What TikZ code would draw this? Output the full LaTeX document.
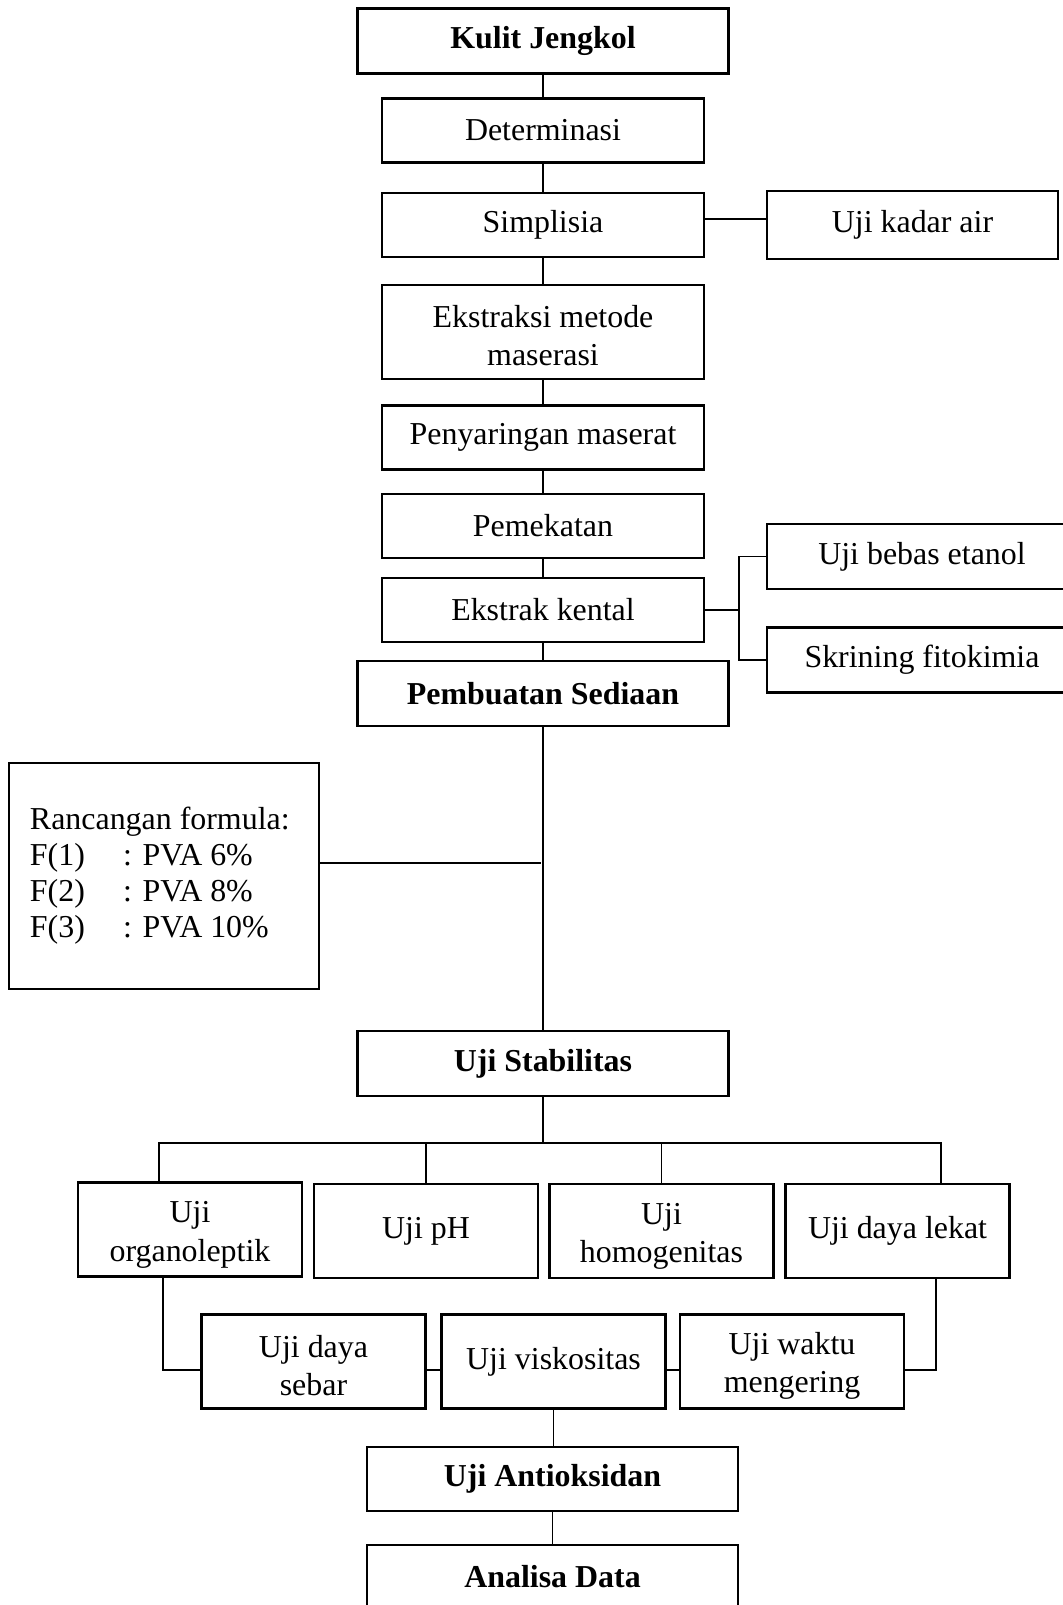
\documentclass[tikz,border=0pt]{standalone}
\usepackage{fontspec}
\setmainfont{Liberation Serif}
\newcommand{\px}{0.376pt}
\newcommand{\nodefont}{\fontsize{12}{14.5}\selectfont}
\newcommand{\boxstrut}[1]{\rule{0pt}{#1}}
\tikzset{
  box/.style={draw, line width=0.9pt, inner sep=0pt, align=center, font=\nodefont,
    minimum width=322*\px, minimum height=64*\px},
  headbox/.style={box, minimum width=371*\px, minimum height=65*\px, font=\nodefont\bfseries},
  sidebox/.style={box, minimum width=310*\px, minimum height=65*\px},
  testbox/.style={box, minimum width=224*\px, minimum height=94*\px},
  link/.style={draw=black, line width=0.5pt},
}
\begin{document}
\begin{tikzpicture}[x=\px, y=-\px]
    \useasboundingbox (0,0) rectangle (1063,1605);
    % main column
    \node(kulit) [headbox] at (543,41) {Kulit Jengkol};
    \node(determinasi) [box] at (543,130.5) {Determinasi};
    \node(simplisia) [box] at (543,225) {Simplisia};
    \node(ekstraksi) [box, minimum height=94*\px] at (543,332) {\boxstrut{11pt}Ekstraksi metode\\maserasi};
    \node(penyaringan) [box] at (543,437.5) {Penyaringan maserat};
    \node(pemekatan) [box] at (543,526) {Pemekatan};
    \node(kental) [box] at (543,610) {Ekstrak kental};
    \node(pembuatan) [headbox] at (543,693.5) {Pembuatan Sediaan};

    % side tests
    \node(kadarair) [box, minimum width=291*\px, minimum height=68*\px] at (912.5,225) {Uji kadar air};
    \node(etanol) [sidebox] at (922,556.5) {Uji bebas etanol};
    \node(skrining) [sidebox] at (922,660) {Skrining fitokimia};

    % formula
    \node(formula) [box, minimum width=310*\px, minimum height=226*\px, text width=268*\px, align=flush left,
      font=\fontsize{12}{13.5}\selectfont] at (164,876)
      {Rancangan formula:\\
       \makebox[35pt][l]{F(1)}: PVA 6\%\\
       \makebox[35pt][l]{F(2)}: PVA 8\%\\
       \makebox[35pt][l]{F(3)}: PVA 10\%\\[3pt]};

    % stability tests
    \node(stabilitas) [headbox] at (543,1063.5) {Uji Stabilitas};
    \node(organo) [testbox] at (190,1229.5) {\boxstrut{12pt}Uji\\organoleptik};
    \node(ph) [testbox] at (426,1231) {Uji pH};
    \node(homogen) [testbox] at (661.5,1231) {\boxstrut{12pt}Uji\\homogenitas};
    \node(lekat) [testbox] at (897.5,1231) {Uji daya lekat};
    \node(sebar) [testbox] at (313.5,1361.5) {\boxstrut{11.5pt}Uji daya\\sebar};
    \node(visko) [testbox] at (553.5,1361.5) {Uji viskositas};
    \node(waktu) [testbox] at (792,1361.5) {\boxstrut{11.5pt}Uji waktu\\mengering};
    \node(antioksidan) [headbox, minimum height=64*\px] at (552.5,1479) {Uji Antioksidan};
    \node(analisa) [headbox, minimum height=64*\px] at (552.5,1577) {Analisa Data};

    % junctions
    \coordinate(kadarJ) at (704,219);
    \coordinate(kentalJ) at (739,610);
    \coordinate(formJ) at (541,863);
    \coordinate(busL) at (159,1143);
    \coordinate(busR) at (941,1143);
    \coordinate(rowL) at (163,1370);
    \coordinate(rowR) at (936,1370);

    %%%%% Links main column %%%%%
    \draw[link](kulit) -- (determinasi);
    \draw[link](determinasi) -- (simplisia);
    \draw[link](simplisia) -- (ekstraksi);
    \draw[link](ekstraksi) -- (penyaringan);
    \draw[link](penyaringan) -- (pemekatan);
    \draw[link](pemekatan) -- (kental);
    \draw[link](kental) -- (pembuatan);
    \draw[link](pembuatan) -- (stabilitas);

    % side links
    \draw[link](simplisia.east |- kadarJ) -- (kadarair.west |- kadarJ);
    \draw[link](kental.east) -- (kentalJ);
    \draw[link](etanol.west) -- (etanol.west -| kentalJ) -- (skrining.west -| kentalJ) -- (skrining.west);
    \draw[link](formula.east |- formJ) -- (formJ);

    % stability links
    \draw[link](stabilitas) -- (stabilitas |- busL);
    \draw[link](busL |- organo.north) -- (busL) -- (busR) -- (busR |- lekat.north);
    \draw[link](ph.north |- busL) -- (ph.north);
    \draw[link](homogen.north |- busL) -- (homogen.north);
    \draw[link](rowL |- organo.south) -- (rowL) -- (sebar.west |- rowL);
    \draw[link](sebar.east |- rowL) -- (visko.west |- rowL);
    \draw[link](visko.east |- rowL) -- (waktu.west |- rowL);
    \draw[link](waktu.east |- rowR) -- (rowR) -- (rowR |- lekat.south);
    \draw[link](visko.south) -- (visko.south |- antioksidan.north);
    \draw[link](antioksidan) -- (analisa);
\end{tikzpicture}
\end{document}
